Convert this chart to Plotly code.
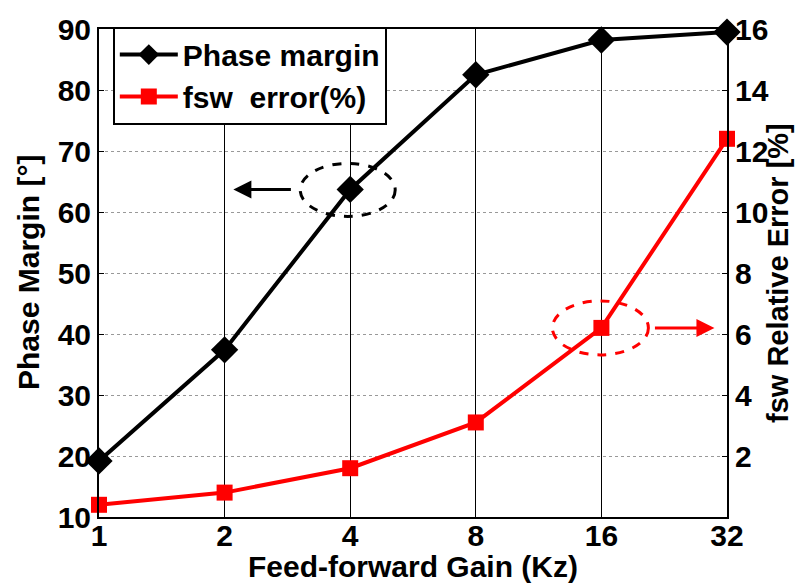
import plotly.graph_objects as go

gain_labels = ["1", "2", "4", "8", "16", "32"]
gain_pos = [0, 1, 2, 3, 4, 5]
phase_margin = [19.2, 37.4, 63.7, 82.5, 88.2, 89.5]
fsw_error = [0.4, 0.8, 1.6, 3.1, 6.2, 12.4]
left_ticks = [10, 20, 30, 40, 50, 60, 70, 80, 90]
right_ticks = [2, 4, 6, 8, 10, 12, 14, 16]

FONT = "Liberation Sans"

fig = go.Figure()
fig.add_trace(go.Scatter(
    x=gain_pos, y=phase_margin, name="Phase margin", mode="lines+markers",
    line=dict(color="black", width=4),
    marker=dict(symbol="diamond", size=21, color="black"),
    cliponaxis=False, yaxis="y"))
fig.add_trace(go.Scatter(
    x=gain_pos, y=fsw_error, name="fsw  error(%)", mode="lines+markers",
    line=dict(color="#ff0000", width=4),
    marker=dict(symbol="square", size=16, color="#ff0000"),
    cliponaxis=False, yaxis="y2"))

tickfont = dict(family=FONT, size=30, color="black", weight="bold")
titlefont = dict(family=FONT, size=30, color="black", weight="bold")

fig.update_layout(
    width=795, height=588,
    margin=dict(l=99, r=68, t=23, b=71),
    paper_bgcolor="white", plot_bgcolor="white",
    showlegend=True,
    legend=dict(x=0.022, y=1.005, xanchor="left", yanchor="top",
                bgcolor="white", bordercolor="black", borderwidth=2,
                font=dict(family=FONT, size=30, color="black", weight="bold"),
                tracegroupgap=0, itemwidth=58),
    xaxis=dict(range=[0, 5], tickvals=gain_pos, ticktext=gain_labels,
               showgrid=True, gridcolor="black", gridwidth=1,
               showline=True, linecolor="black", linewidth=2, mirror="ticks",
               ticks="inside", ticklen=5, tickcolor="black",
               tickfont=tickfont, zeroline=False, ticklabelstandoff=-9),
    yaxis=dict(range=[10, 90], tickvals=left_ticks,
               showgrid=True, gridcolor="#999999", gridwidth=1, griddash="dot",
               showline=True, linecolor="black", linewidth=2,
               ticks="inside", ticklen=5, tickcolor="black",
               tickfont=tickfont, zeroline=False),
    yaxis2=dict(range=[0, 16], tickvals=right_ticks, overlaying="y", side="right",
                showgrid=False, showline=True, linecolor="black", linewidth=2,
                ticks="inside", ticklen=5, tickcolor="black",
                tickfont=tickfont, zeroline=False),
)

# axis titles
fig.add_annotation(text="Phase Margin [°]", xref="paper", yref="paper",
                   x=(28 - 99) / 628, y=0.5, textangle=-90, showarrow=False,
                   font=titlefont, xanchor="center", yanchor="middle")
fig.add_annotation(text="fsw Relative Error [%]", xref="paper", yref="paper",
                   x=(778 - 99) / 628, y=0.5, textangle=-90, showarrow=False,
                   font=dict(family=FONT, size=29, color="black", weight="bold"),
                   xanchor="center", yanchor="middle")
fig.add_annotation(text="Feed-forward Gain (Kz)", xref="paper", yref="paper",
                   x=0.5, y=-(566 - 516) / 493, showarrow=False,
                   font=titlefont, xanchor="center", yanchor="middle")

# dashed ellipses anchored to data points
fig.add_shape(type="circle", xref="x", yref="y", xsizemode="pixel", ysizemode="pixel",
              xanchor=gain_pos[2], yanchor=phase_margin[2],
              x0=-50, x1=45, y0=-27, y1=26,
              line=dict(color="black", width=3, dash="dash"))
fig.add_shape(type="circle", xref="x", yref="y2", xsizemode="pixel", ysizemode="pixel",
              xanchor=gain_pos[4], yanchor=fsw_error[4],
              x0=-49, x1=47, y0=-27, y1=27,
              line=dict(color="#ff0000", width=3, dash="dash"))

# arrows
fig.add_annotation(x=1.07, y=phase_margin[2], xref="x", yref="y", ax=59, ay=0,
                   text="", showarrow=True, arrowhead=2, arrowsize=1.2,
                   arrowwidth=3, arrowcolor="black")
fig.add_annotation(x=4.9, y=fsw_error[4], xref="x", yref="y2", ax=-61, ay=0,
                   text="", showarrow=True, arrowhead=2, arrowsize=1.2,
                   arrowwidth=3, arrowcolor="#ff0000")

fig.write_html("out.html")
